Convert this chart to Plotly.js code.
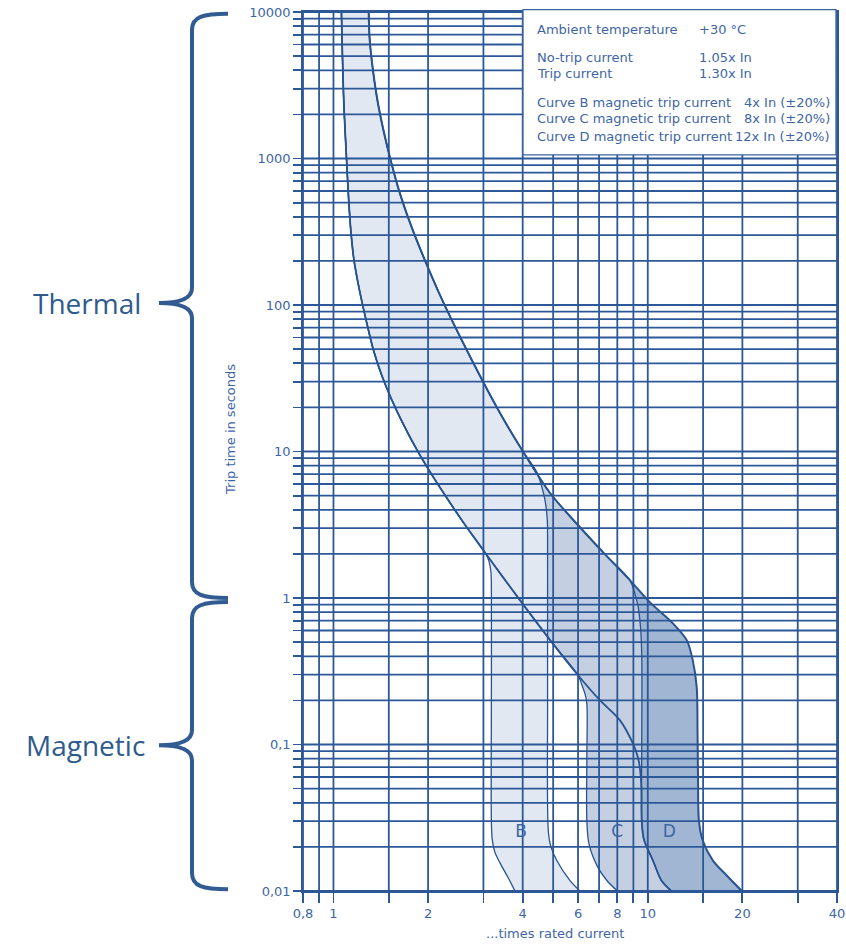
<!DOCTYPE html>
<html><head><meta charset="utf-8">
<script src="https://cdn.plot.ly/plotly-3.0.1.min.js"></script>
<style>html,body{margin:0;padding:0;background:#fff}</style>
</head><body><div id="chart" style="width:846px;height:944px"></div>
<script>
// ---------- data ----------
const xTickVals = [0.8,0.9,1,1.5,2,3,4,5,6,7,8,9,10,15,20,30,40];
const xLabelVals = [0.8,1,2,4,6,8,10,20,40];
const xLabelText = ["0,8","1","2","4","6","8","10","20","40"];
const yTickVals = [0.01,0.02,0.03,0.04,0.05,0.06,0.07,0.08,0.09,
  0.1,0.2,0.3,0.4,0.5,0.6,0.7,0.8,0.9,
  1,2,3,4,5,6,7,8,9,
  10,20,30,40,50,60,70,80,90,
  100,200,300,400,500,600,700,800,900,
  1000,2000,3000,4000,5000,6000,7000,8000,9000,
  10000];
const yLabelVals = [0.01,0.1,1,10,100,1000,10000];
const yLabelText = ["0,01","0,1","1","10","100","1000","10000"];

// thermal band (current in x In, time in s)
const thermalMaxI = [1.2945,1.304,1.335,1.379,1.441,1.511,1.614,1.762,1.952,2.218,2.558,2.972,3.415,3.981,4.886,5.995,7.197,8.767,10.147,12.0,13.3,13.9,14.31];
const thermalMaxT = [10000,6469,4035,2518,1571,1027,611,352.5,203.2,108.3,57.7,30.8,17.76,10.24,5.21,3.148,2.058,1.325,0.9376,0.674,0.5157,0.3766,0.2463];
const thermalMinI = [1.060,1.078,1.0996,1.118,1.135,1.162,1.192,1.236,1.285,1.34,1.423,1.533,1.672,1.852,2.058,2.318,2.624,3.04,3.92,4.89,6.0,7.04,8.15,8.96];
const thermalMinT = [10000,2518,1027,522,326,203,148.5,101.7,70.8,49.3,33.3,22.5,15.2,10.08,6.91,4.66,3.15,2.03,0.967,0.516,0.297,0.2007,0.1466,0.102];

// magnetic branches (leave the thermal curve at the given current)
const bMinFrom = 3.04, bMinI = [3.12,3.17,3.18,3.18,3.18,3.2,3.26,3.39,3.59,3.78], bMinT = [1.8,1.5,1.2,0.2,0.03,0.0225,0.0185,0.0155,0.0124,0.01];
const bMaxFrom = 3.981, bMaxI = [4.44,4.6,4.71,4.79,4.8,4.8,4.83,4.92,5.13,5.65,6.08], bMaxT = [7.2,5.75,4.66,3.41,2.5,0.2,0.025,0.02,0.0162,0.0118,0.01];
const cMinFrom = 6.0, cMinI = [6.15,6.32,6.4,6.4,6.4,6.5,6.94,7.41,8.01], cMinT = [0.26,0.22,0.19,0.08,0.03,0.021,0.0145,0.0118,0.01];
const cMaxFrom = 8.767, cMaxI = [9.09,9.32,9.48,9.57,9.57,9.57,9.72,10.38,11.05,11.89], cMaxT = [1.08,0.871,0.636,0.4,0.1,0.03,0.0225,0.0162,0.0118,0.01];
const dMinFrom = 100, dMinI = [9.3,9.43,9.55,9.57,9.72,10.38,11.05,11.89], dMinT = [0.0819,0.07,0.05,0.03,0.0225,0.0162,0.0118,0.01];
const dMaxFrom = 100, dMaxI = [14.4,14.45,14.55,14.95,16.1,17.8,19.9], dMaxT = [0.12,0.06,0.03,0.0222,0.0162,0.0128,0.01];

const curveLetters = ["B","C","D"];
const letterI = [3.95,8.0,11.7];
const letterT = [0.0248,0.0248,0.0248];

const infoLabels = ["Ambient temperature","No-trip current","Trip current","Curve B magnetic trip current","Curve C magnetic trip current","Curve D magnetic trip current"];
const infoValues = ["+30 °C","1.05x In","1.30x In","4x In (±20%)","8x In (±20%)","12x In (±20%)"];

// ---------- layout geometry (pixels) ----------
const W = 846, H = 944, L = 303, R = 837, TOP = 12.3, BOT = 890.7;
const px = x => (x - L) / (R - L);
const py = y => (BOT - y) / (BOT - TOP);

const BLUE = 'rgb(45,88,152)';
const TXT = 'rgb(62,102,165)';

function curve(thI, thT, from, brI, brT) {
  const xs = [], ys = [];
  for (let k = 0; k < thI.length; k++) if (thI[k] <= from) { xs.push(thI[k]); ys.push(thT[k]); }
  return {x: xs.concat(brI), y: ys.concat(brT)};
}
const bMin = curve(thermalMinI, thermalMinT, bMinFrom, bMinI, bMinT);
const bMax = curve(thermalMaxI, thermalMaxT, bMaxFrom, bMaxI, bMaxT);
const cMin = curve(thermalMinI, thermalMinT, cMinFrom, cMinI, cMinT);
const cMax = curve(thermalMaxI, thermalMaxT, cMaxFrom, cMaxI, cMaxT);
const dMin = curve(thermalMinI, thermalMinT, dMinFrom, dMinI, dMinT);
const dMax = curve(thermalMaxI, thermalMaxT, dMaxFrom, dMaxI, dMaxT);

const SM = 0.9;
function region(mn, mx, color) {
  return {x: mn.x.concat(mx.x.slice().reverse()), y: mn.y.concat(mx.y.slice().reverse()),
    mode: 'lines', fill: 'toself', fillcolor: color, line: {width: 0, shape: 'spline', smoothing: SM}, hoverinfo: 'skip', showlegend: false};
}
function outline(c, w) {
  return {x: c.x, y: c.y, mode: 'lines', line: {color: 'rgb(40,84,145)', width: w, shape: 'spline', smoothing: SM}, hoverinfo: 'skip', showlegend: false};
}

// grid as a trace so it sits over the fills
const gx = [], gy = [];
xTickVals.forEach(v => { gx.push(v, v, null); gy.push(0.01, 10000, null); });
yTickVals.forEach(v => { gx.push(0.8, 40, null); gy.push(v, v, null); });

const traces = [
  region(dMin, dMax, 'rgb(160,182,211)'),
  region(cMin, cMax, 'rgb(196,208,226)'),
  region(bMin, bMax, 'rgb(225,232,242)'),
  {x: gx, y: gy, mode: 'lines', line: {color: BLUE, width: 1.8}, hoverinfo: 'skip', showlegend: false},
  outline(bMin, 1.3), outline(bMax, 1.3), outline(cMin, 1.3), outline(cMax, 1.3),
  outline(dMin, 1.8), outline(dMax, 2),
  {x: letterI, y: letterT, text: curveLetters, mode: 'text', textfont: {family: 'DejaVu Sans', size: 17, color: TXT}, hoverinfo: 'skip', showlegend: false}
];

function bracePath(top, mid, bot) {
  const xv = 192, xe = 228, xt = 159;
  const P = (x, y) => px(x) + ',' + py(y);
  return 'M' + P(xe, top) + ' C' + P(203, top) + ' ' + P(xv, top + 3) + ' ' + P(xv, top + 16) +
    ' L' + P(xv, mid - 15) + ' C' + P(xv, mid - 4) + ' ' + P(180, mid) + ' ' + P(xt, mid) +
    ' C' + P(180, mid) + ' ' + P(xv, mid + 4) + ' ' + P(xv, mid + 15) +
    ' L' + P(xv, bot - 16) + ' C' + P(xv, bot - 3) + ' ' + P(203, bot) + ' ' + P(xe, bot);
}

const shapes = [
  {type: 'rect', xref: 'paper', yref: 'paper', x0: px(523), x1: px(836), y0: py(155), y1: py(10),
   fillcolor: 'white', line: {color: 'rgb(60,100,160)', width: 1.3}, layer: 'above'},
  {type: 'path', xref: 'paper', yref: 'paper', path: bracePath(14, 303, 598), line: {color: 'rgb(50,92,145)', width: 4}, layer: 'above'},
  {type: 'path', xref: 'paper', yref: 'paper', path: bracePath(602, 745, 889), line: {color: 'rgb(50,92,145)', width: 4}, layer: 'above'}
];

const infoY = [29.3, 57.3, 73.3, 102.7, 119, 136.7];
const annotations = [];
infoLabels.forEach((t, k) => {
  annotations.push({xref: 'paper', yref: 'paper', x: px(535), y: py(infoY[k]), xanchor: 'left', yanchor: 'middle',
    text: t, showarrow: false, font: {family: 'DejaVu Sans', size: 13, color: TXT}});
  const right = k >= 3;
  annotations.push({xref: 'paper', yref: 'paper', x: right ? px(832) : px(697), y: py(infoY[k]), xanchor: right ? 'right' : 'left', yanchor: 'middle',
    text: infoValues[k], showarrow: false, font: {family: 'DejaVu Sans', size: 13, color: TXT}});
});
annotations.push({xref: 'paper', yref: 'paper', x: px(231), y: py(430), xanchor: 'center', yanchor: 'middle', textangle: -90, text: 'Trip time in seconds',
  showarrow: false, font: {family: 'DejaVu Sans', size: 13, color: TXT}});
annotations.push({xref: 'paper', yref: 'paper', x: px(555), y: py(933), xanchor: 'center', yanchor: 'middle', text: '...times rated current',
  showarrow: false, font: {family: 'DejaVu Sans', size: 13, color: TXT}});
annotations.push({xref: 'paper', yref: 'paper', x: px(87), y: py(303), xanchor: 'center', yanchor: 'middle', text: 'Thermal',
  showarrow: false, font: {family: 'Open Sans', size: 28, color: 'rgb(47,91,140)'}});
annotations.push({xref: 'paper', yref: 'paper', x: px(85), y: py(745), xanchor: 'center', yanchor: 'middle', text: 'Magnetic',
  showarrow: false, font: {family: 'Open Sans', size: 28, color: 'rgb(47,91,140)'}});

const xTickText = xTickVals.map(v => { const i = xLabelVals.indexOf(v); return i >= 0 ? xLabelText[i] : ''; });
const yTickText = yTickVals.map(v => { const i = yLabelVals.indexOf(v); return i >= 0 ? yLabelText[i] : ''; });

const layout = {
  width: W, height: H, margin: {l: L, r: W - R, t: 12, b: H - 891},
  paper_bgcolor: 'white', plot_bgcolor: 'white', showlegend: false,
  xaxis: {type: 'log', range: [Math.log10(0.8), Math.log10(40)], tickmode: 'array', tickvals: xTickVals, ticktext: xTickText,
    showgrid: false, zeroline: false, ticks: 'outside', ticklen: 10, tickwidth: 1.8, tickcolor: BLUE,
    showline: true, mirror: true, linecolor: BLUE, linewidth: 1.8,
    tickfont: {family: 'DejaVu Sans', size: 13, color: TXT}, fixedrange: true},
  yaxis: {type: 'log', range: [-2, 4], tickmode: 'array', tickvals: yTickVals, ticktext: yTickText,
    showgrid: false, zeroline: false, ticks: 'outside', ticklen: 8, tickwidth: 1.8, tickcolor: BLUE,
    showline: true, mirror: true, linecolor: BLUE, linewidth: 1.8,
    tickfont: {family: 'DejaVu Sans', size: 13, color: TXT}, fixedrange: true},
  shapes: shapes, annotations: annotations
};

Plotly.newPlot('chart', traces, layout, {staticPlot: true, displayModeBar: false});
</script></body></html>
